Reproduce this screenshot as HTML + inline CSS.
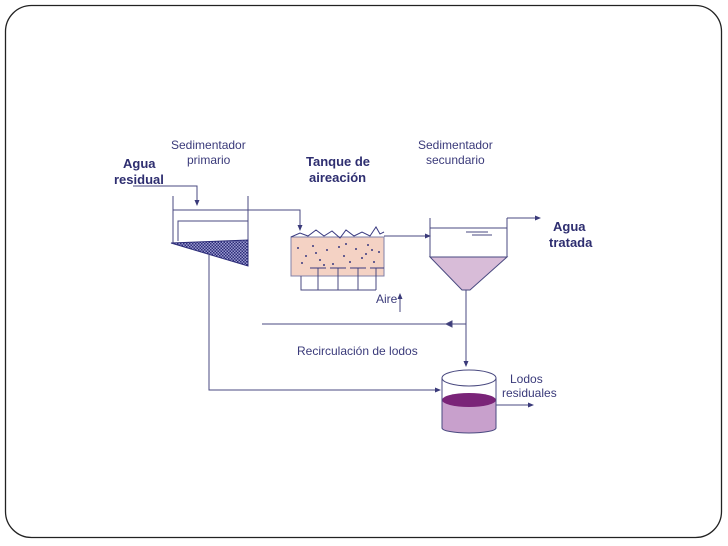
<!DOCTYPE html>
<html><head><meta charset="utf-8"><style>
html,body{margin:0;padding:0;background:#fff;width:728px;height:546px;overflow:hidden}
text{font-family:"Liberation Sans",Arial,sans-serif}
</style></head><body>
<svg width="728" height="546" viewBox="0 0 728 546" xmlns="http://www.w3.org/2000/svg">
<defs>
<pattern id="h" width="3" height="3" patternUnits="userSpaceOnUse">
<rect width="3" height="3" fill="#9a9ad0"/><rect width="1.5" height="1.5" fill="#2c2c78"/><rect x="1.5" y="1.5" width="1.5" height="1.5" fill="#2c2c78"/>
</pattern>
<marker id="a" markerWidth="6" markerHeight="6" refX="5" refY="3" orient="auto" markerUnits="userSpaceOnUse"><path d="M0,0.5 L6,3 L0,5.5z" fill="#3a3a7a"/></marker>
</defs>
<rect x="5.5" y="5.5" width="716" height="532" rx="26" fill="none" stroke="#222" stroke-width="1.3"/>
<g stroke="#4a4a80" stroke-width="1" fill="none">
<!-- primary sedimentator -->
<polyline points="133,186 197,186 197,205" marker-end="url(#a)"/>
<line x1="173" y1="196" x2="173" y2="244"/>
<line x1="248" y1="196" x2="248" y2="266"/>
<polyline points="173,210 300,210 300,230" marker-end="url(#a)"/>
<polyline points="178,241 178,221 248,221"/>
<polygon points="171,243 248,240 248,266" fill="url(#h)" stroke="#2c2c78"/>
<polyline points="209,255 209,390 440,390" marker-end="url(#a)"/>
<!-- aeration tank -->
<rect x="291" y="237" width="93" height="39" fill="#f4d2c4" stroke="#8080a8"/>
<path d="M291,237 L300,233 L308,236 L316,230 L324,236 L332,231 L340,238 L346,230 L354,236 L362,232 L370,236 L376,227 L380,234 L384,232" stroke="#3a3a80"/>
<polyline points="301,276 301,290 376,290"/>
<line x1="318" y1="268" x2="318" y2="290"/><line x1="338" y1="268" x2="338" y2="290"/>
<line x1="358" y1="268" x2="358" y2="290"/><line x1="376" y1="268" x2="376" y2="290"/>
<g stroke="#3a3a80"><line x1="310" y1="268" x2="326" y2="268"/><line x1="330" y1="268" x2="346" y2="268"/><line x1="350" y1="268" x2="366" y2="268"/><line x1="370" y1="268" x2="384" y2="268"/></g>
<line x1="400" y1="312" x2="400" y2="294" marker-end="url(#a)"/>
<line x1="384" y1="236" x2="430" y2="236" marker-end="url(#a)"/>
<!-- secondary -->
<polygon points="430,257 507,257 470,290 462,290" fill="#d8bcd8"/>
<line x1="430" y1="218" x2="430" y2="257"/><line x1="507" y1="218" x2="507" y2="257"/>
<line x1="430" y1="228" x2="507" y2="228"/>
<line x1="466" y1="232" x2="488" y2="232"/><line x1="472" y1="235" x2="492" y2="235"/>
<line x1="507" y1="218" x2="540" y2="218" marker-end="url(#a)"/>
<line x1="466" y1="290" x2="466" y2="366" marker-end="url(#a)"/>
<line x1="466" y1="324" x2="262" y2="324"/>
<path d="M452,321 L446,324 L452,327z" fill="#3a3a7a"/>
<!-- cylinder -->
<path d="M442,400 L442,428 A27,5 0 0 0 496,428 L496,400z" fill="#c8a0cc" stroke="none"/>
<ellipse cx="469" cy="400" rx="27" ry="7" fill="#7a2478" stroke="none"/>
<path d="M442,378 L442,428 A27,5 0 0 0 496,428 L496,378"/>
<ellipse cx="469" cy="378" rx="27" ry="8" fill="#fff"/>
<line x1="496" y1="405" x2="533" y2="405" marker-end="url(#a)"/>
</g>
<g fill="#3a3a80">
<circle cx="298" cy="248" r="1"/><circle cx="306" cy="256" r="1"/><circle cx="313" cy="246" r="1"/><circle cx="320" cy="260" r="1"/><circle cx="327" cy="250" r="1"/><circle cx="333" cy="264" r="1"/><circle cx="339" cy="247" r="1"/><circle cx="344" cy="256" r="1"/><circle cx="350" cy="262" r="1"/><circle cx="356" cy="249" r="1"/><circle cx="362" cy="258" r="1"/><circle cx="368" cy="245" r="1"/><circle cx="374" cy="262" r="1"/><circle cx="379" cy="252" r="1"/><circle cx="302" cy="263" r="1"/><circle cx="316" cy="253" r="1"/><circle cx="346" cy="244" r="1"/><circle cx="366" cy="254" r="1"/><circle cx="324" cy="265" r="1"/><circle cx="372" cy="250" r="1"/>
</g>
<g fill="#3a3a7a" font-size="12">
<text x="171" y="149">Sedimentador</text><text x="187" y="164">primario</text>
<text x="418" y="149">Sedimentador</text><text x="426" y="164">secundario</text>
<text x="376" y="303">Aire</text>
<text x="297" y="355">Recirculación de lodos</text>
<text x="510" y="383">Lodos</text><text x="502" y="397">residuales</text>
</g>
<g fill="#2e2e70" font-size="13" font-weight="bold">
<text x="123" y="168">Agua</text><text x="114" y="184">residual</text>
<text x="306" y="166">Tanque de</text><text x="309" y="182">aireación</text>
<text x="553" y="231">Agua</text><text x="549" y="247">tratada</text>
</g>
</svg>
</body></html>
